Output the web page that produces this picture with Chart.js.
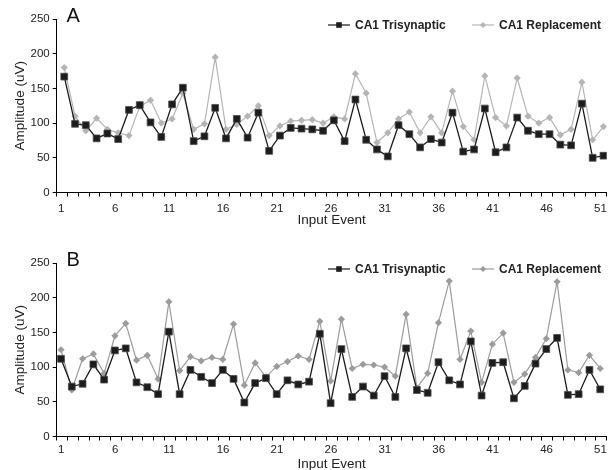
<!DOCTYPE html>
<html>
<head>
<meta charset="utf-8">
<script src="https://cdn.jsdelivr.net/npm/chart.js@4.4.1/dist/chart.umd.min.js"></script>
<style>
  html, body { margin: 0; padding: 0; background: #fff; overflow: hidden; }
  .panel { position: absolute; left: 0; width: 616px; height: 232px; }
</style>
</head>
<body>
<div class="panel" style="top:0"><canvas id="chartA"></canvas></div>
<div class="panel" style="top:244px"><canvas id="chartB"></canvas></div>
<script>
// Input events on the x axis, and which of them get a label
const EVENTS = [1, 2, 3, 4, 5, 6, 7, 8, 9, 10, 11, 12, 13, 14, 15, 16, 17, 18, 19, 20,
  21, 22, 23, 24, 25, 26, 27, 28, 29, 30, 31, 32, 33, 34, 35, 36, 37, 38, 39, 40,
  41, 42, 43, 44, 45, 46, 47, 48, 49, 50, 51];
const X_TICK_LABELS = [1, 6, 11, 16, 21, 26, 31, 36, 41, 46, 51];
const Y_TICKS = [0, 50, 100, 150, 200, 250];

const SERIES_NAMES = ['CA1 Trisynaptic', 'CA1 Replacement'];

// Panel A — amplitudes (uV)
const A_TRISYNAPTIC = [167, 99, 97, 78, 85, 77, 119, 126, 101, 80, 127, 151, 74, 81, 122, 78, 106, 79, 115, 60,
  82, 93, 92, 91, 89, 104, 74, 134, 76, 62, 52, 97, 84, 65, 77, 72, 115, 59, 62, 121,
  58, 65, 108, 89, 84, 84, 69, 68, 128, 50, 53];
const A_REPLACEMENT = [180, 110, 89, 107, 91, 86, 82, 124, 133, 100, 106, 143, 91, 99, 195, 91, 98, 110, 125, 82,
  96, 103, 104, 105, 100, 109, 106, 171, 143, 72, 86, 106, 116, 86, 109, 86, 146, 95, 76, 168,
  108, 96, 165, 110, 100, 108, 83, 91, 159, 76, 95];

// Panel B — amplitudes (uV)
const B_TRISYNAPTIC = [112, 72, 76, 104, 82, 124, 127, 78, 71, 61, 151, 61, 96, 86, 77, 96, 83, 49, 77, 84,
  61, 81, 75, 79, 148, 48, 126, 57, 72, 59, 87, 57, 127, 67, 63, 107, 81, 75, 137, 59,
  106, 107, 55, 73, 105, 126, 142, 60, 61, 96, 68];
const B_REPLACEMENT = [125, 67, 112, 119, 91, 145, 163, 110, 117, 83, 194, 95, 115, 109, 114, 111, 162, 74, 106, 86,
  101, 108, 116, 111, 166, 80, 169, 98, 104, 103, 100, 87, 176, 70, 91, 164, 224, 111, 152, 78,
  133, 149, 78, 90, 114, 141, 223, 96, 92, 117, 98];

const FONT = '"Liberation Sans", Arial, Helvetica, sans-serif';
const TEXT = '#222';
const BLACK = '#1a1a1a';

Chart.defaults.font.family = FONT;
Chart.defaults.color = TEXT;

// panel letter + legend (line with marker, bold label) drawn inside the plot
const panelDecor = {
  id: 'panelDecor',
  afterDraw(chart, args, opts) {
    const ctx = chart.ctx;
    ctx.save();
    ctx.fillStyle = '#111';
    ctx.font = '20px ' + FONT;
    ctx.textBaseline = 'alphabetic';
    ctx.textAlign = 'left';
    ctx.fillText(opts.letter, 66.5, 22);

    const starts = [328, 472];
    const y = 25;
    ctx.font = 'bold 12px ' + FONT;
    ctx.textBaseline = 'middle';
    chart.data.datasets.forEach((ds, i) => {
      const x0 = starts[i];
      ctx.strokeStyle = ds.borderColor;
      ctx.lineWidth = 1.2;
      ctx.beginPath();
      ctx.moveTo(x0, y);
      ctx.lineTo(x0 + 22, y);
      ctx.stroke();
      ctx.fillStyle = ds.pointBackgroundColor;
      const cx = x0 + 11;
      ctx.beginPath();
      if (ds.pointStyle === 'rect') {
        ctx.rect(cx - 2.8, y - 2.8, 5.6, 5.6);
      } else {
        ctx.moveTo(cx - 3, y); ctx.lineTo(cx, y - 3); ctx.lineTo(cx + 3, y); ctx.lineTo(cx, y + 3);
        ctx.closePath();
      }
      ctx.fill();
      ctx.fillStyle = TEXT;
      ctx.fillText(ds.label, x0 + 27, y + 0.5);
    });
    ctx.restore();
  }
};

function makePanel(canvasId, letter, tri, rep, gray, shift, labelPad) {
  const pts = arr => arr.map((v, i) => ({ x: EVENTS[i], y: v }));
  const boundaries = [...EVENTS, EVENTS.length + 1].map(e => e - 0.5 + shift);

  return new Chart(document.getElementById(canvasId), {
    type: 'line',
    data: {
      datasets: [{
        label: SERIES_NAMES[0],
        data: pts(tri),
        borderColor: BLACK,
        borderWidth: 1.3,
        pointStyle: 'rect',
        pointRadius: 4.8,
        pointBackgroundColor: '#1c1c1c',
        pointBorderColor: '#4a4a4a',
        pointBorderWidth: 0.8,
        tension: 0,
      }, {
        label: SERIES_NAMES[1],
        data: pts(rep),
        borderColor: gray,
        borderWidth: 1.2,
        pointStyle: 'rectRot',
        pointRadius: 3.6,
        pointBackgroundColor: gray,
        pointBorderColor: gray,
        pointBorderWidth: 0,
        tension: 0,
      }],
    },
    options: {
      responsive: true,
      maintainAspectRatio: false,
      animation: false,
      layout: { padding: { top: 19, right: 9.3, left: 0, bottom: 0 } },
      plugins: {
        legend: { display: false },
        tooltip: { enabled: false },
        panelDecor: { letter },
      },
      scales: {
        x: {
          type: 'linear',
          min: boundaries[0],
          max: boundaries[boundaries.length - 1],
          afterBuildTicks: s => { s.ticks = boundaries.map(v => ({ value: v })); },
          afterFit: s => { s.height = 39.5; },
          border: { color: '#000', width: 1 },
          grid: { drawOnChartArea: false, tickLength: 4, color: '#000', lineWidth: 1 },
          ticks: {
            autoSkip: false, maxRotation: 0, labelOffset: 4.6, padding: labelPad,
            font: { size: 11.5 }, color: TEXT,
            callback: (v, i) => X_TICK_LABELS.includes(EVENTS[i]) ? String(EVENTS[i]) : '',
          },
          title: { display: true, text: 'Input Event', font: { size: 13.5 }, color: TEXT, padding: { top: 0, bottom: 4 } },
        },
        y: {
          min: Y_TICKS[0],
          max: Y_TICKS[Y_TICKS.length - 1],
          afterBuildTicks: s => { s.ticks = Y_TICKS.map(v => ({ value: v })); },
          afterFit: s => { s.width = 56.7; },
          border: { color: '#000', width: 1 },
          grid: { drawOnChartArea: false, tickLength: 4, color: '#000', lineWidth: 1 },
          ticks: { padding: 3, font: { size: 11.5 }, color: TEXT },
          title: { display: true, text: 'Amplitude (uV)', font: { size: 13.5 }, color: TEXT, padding: { top: 12.5, bottom: 0 } },
        },
      },
    },
    plugins: [panelDecor],
  });
}

makePanel('chartA', 'A', A_TRISYNAPTIC, A_REPLACEMENT, '#b5b5b5', -0.2, 5.6);
makePanel('chartB', 'B', B_TRISYNAPTIC, B_REPLACEMENT, '#9c9c9c', 0.1, 2.4);
</script>
</body>
</html>
